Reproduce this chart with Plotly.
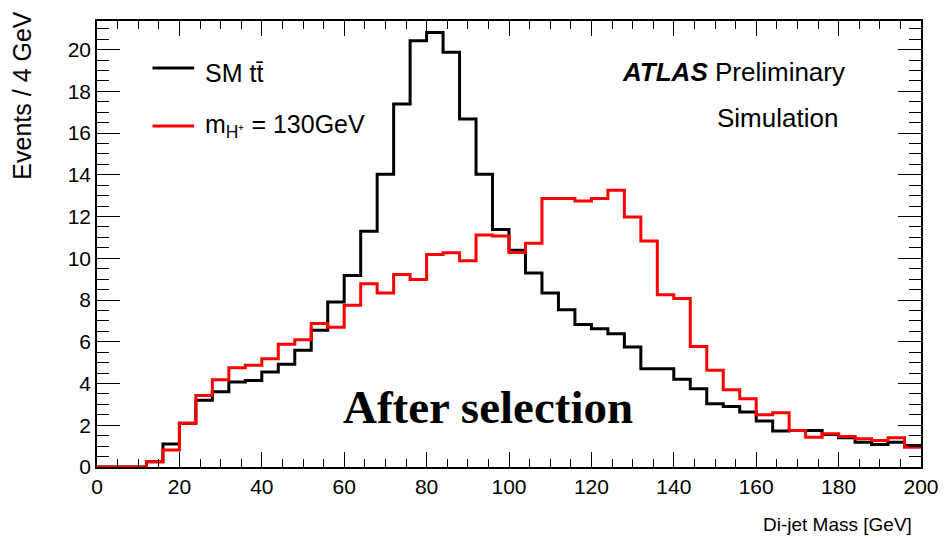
import plotly.graph_objects as go

# ---- data ----
bin_edges = [0, 4, 8, 12, 16, 20, 24, 28, 32, 36, 40, 44, 48, 52, 56, 60, 64, 68, 72, 76,
             80, 84, 88, 92, 96, 100, 104, 108, 112, 116, 120, 124, 128, 132, 136, 140,
             144, 148, 152, 156, 160, 164, 168, 172, 176, 180, 184, 188, 192, 196, 200]

sm_ttbar = [0, 0, 0, 0.25, 1.1, 2.1, 3.2, 3.6, 4.07, 4.15, 4.55, 4.92, 5.6, 6.55, 7.9,
            9.18, 11.3, 14.03, 17.39, 20.42, 20.82, 19.87, 16.68, 14.03, 11.38, 10.38,
            9.3, 8.34, 7.54, 6.83, 6.63, 6.39, 5.75, 4.71, 4.71, 4.2, 3.75, 3.03, 2.9,
            2.63, 2.2, 1.72, 1.75, 1.75, 1.56, 1.4, 1.18, 1.08, 1.18, 1.03]

higgs_130 = [0, 0, 0, 0.25, 0.82, 2.1, 3.43, 4.18, 4.76, 4.87, 5.19, 5.88, 6.1, 6.87,
             6.7, 7.75, 8.78, 8.34, 9.22, 8.98, 10.18, 10.26, 9.88, 11.12, 11.07, 10.28,
             10.72, 12.86, 12.86, 12.75, 12.86, 13.26, 11.98, 10.83, 8.25, 8.07, 5.77,
             4.63, 3.7, 3.27, 2.5, 2.6, 1.75, 1.43, 1.59, 1.46, 1.35, 1.27, 1.4, 0.95]

x_ticks = [0, 20, 40, 60, 80, 100, 120, 140, 160, 180, 200]
y_ticks = [0, 2, 4, 6, 8, 10, 12, 14, 16, 18, 20]

# ---- figure geometry (pixels) ----
W, H = 951, 545
L, R, T, B = 97, 23, 21, 78
PW, PH = W - L - R, H - T - B


def px(x):
    return (x - L) / PW


def py(y):
    return (H - B - y) / PH


FONT = "Liberation Sans, Arial, Helvetica, sans-serif"

fig = go.Figure()
fig.add_trace(go.Scatter(x=bin_edges, y=sm_ttbar + [sm_ttbar[-1]], mode="lines",
                         line=dict(shape="hv", color="#000000", width=3),
                         name="SM tt̄", showlegend=False))
fig.add_trace(go.Scatter(x=bin_edges, y=higgs_130 + [higgs_130[-1]], mode="lines",
                         line=dict(shape="hv", color="#ff0000", width=3),
                         name="m_H+ = 130GeV", showlegend=False))

fig.update_layout(
    width=W, height=H,
    margin=dict(l=L, r=R, t=T, b=B, pad=0),
    paper_bgcolor="white", plot_bgcolor="white",
    font=dict(family=FONT, color="black", size=20),
    showlegend=False,
)

fig.update_xaxes(
    range=[0, 200], tickvals=x_ticks, ticktext=[str(v) for v in x_ticks],
    showgrid=False, zeroline=False,
    showline=True, linecolor="black", linewidth=1.5, mirror="ticks",
    ticks="inside", ticklen=15, tickwidth=1.2, tickcolor="black",
    minor=dict(ticks="inside", ticklen=8, dtick=5, tick0=0, tickwidth=1.2,
               tickcolor="black", showgrid=False),
    tickfont=dict(size=21, family=FONT),
)
fig.update_yaxes(
    range=[0, 21.37], tickvals=y_ticks, ticktext=[str(v) for v in y_ticks],
    showgrid=False, zeroline=False,
    showline=True, linecolor="black", linewidth=1.5, mirror="ticks",
    ticks="inside", ticklen=23, tickwidth=1.2, tickcolor="black",
    minor=dict(ticks="inside", ticklen=12, dtick=0.5, tick0=0, tickwidth=1.2,
               tickcolor="black", showgrid=False),
    tickfont=dict(size=21, family=FONT),
)

ann = []
# axis titles
ann.append(dict(text="Events / 4 GeV", xref="paper", yref="paper", x=px(21), y=py(10),
                xanchor="center", yanchor="top", textangle=-90, showarrow=False,
                font=dict(size=25, family=FONT)))
ann.append(dict(text="Di-jet Mass [GeV]", xref="paper", yref="paper", x=px(921), y=py(524),
                xanchor="right", yanchor="middle", showarrow=False,
                font=dict(size=19, family=FONT)))
# legend text
ann.append(dict(text="SM tt̄", xref="paper", yref="paper", x=px(204), y=py(73),
                xanchor="left", yanchor="middle", showarrow=False,
                font=dict(size=25, family=FONT)))
ann.append(dict(text="m<sub>H⁺</sub> = 130GeV", xref="paper", yref="paper", x=px(204), y=py(126),
                xanchor="left", yanchor="middle", showarrow=False,
                font=dict(size=25, family=FONT)))
# ATLAS label
ann.append(dict(text="<b><i>ATLAS</i></b> Preliminary", xref="paper", yref="paper",
                x=px(624), y=py(72), xanchor="left", yanchor="middle", showarrow=False,
                font=dict(size=26, family=FONT)))
ann.append(dict(text="Simulation", xref="paper", yref="paper",
                x=px(720), y=py(118), xanchor="left", yanchor="middle", showarrow=False,
                font=dict(size=26, family=FONT)))
# After selection
ann.append(dict(text="<b>After selection</b>", xref="paper", yref="paper",
                x=px(491), y=py(407), xanchor="center", yanchor="middle", showarrow=False,
                font=dict(size=47, family="Liberation Serif, Times New Roman, serif")))
fig.update_layout(annotations=ann)

# legend line samples
fig.add_shape(type="line", xref="paper", yref="paper", x0=px(153), x1=px(195),
              y0=py(68), y1=py(68), line=dict(color="#000000", width=3))
fig.add_shape(type="line", xref="paper", yref="paper", x0=px(153), x1=px(195),
              y0=py(126), y1=py(126), line=dict(color="#ff0000", width=3))

fig.write_html("out.html")
